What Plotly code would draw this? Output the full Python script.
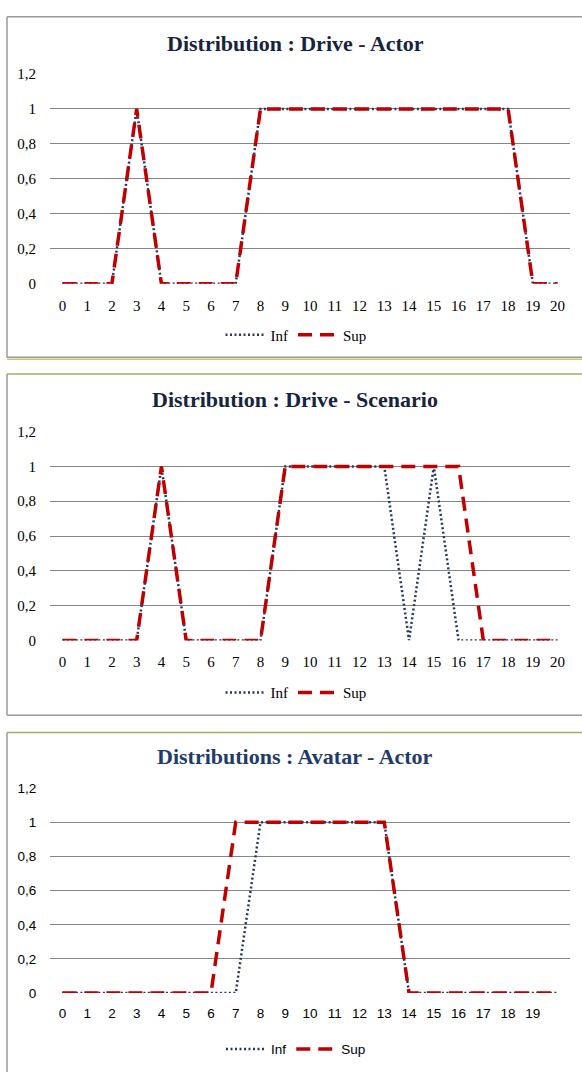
import plotly.graph_objects as go

W, H = 582, 1075

# ---------------- data ----------------
x_vals = list(range(21))
x_labels_21 = [str(i) for i in range(21)]
x_labels_20 = [str(i) for i in range(20)]
y_ticks = [0, 0.2, 0.4, 0.6, 0.8, 1, 1.2]
y_labels = ["0", "0,2", "0,4", "0,6", "0,8", "1", "1,2"]

titles = ["Distribution : Drive - Actor",
          "Distribution : Drive - Scenario",
          "Distributions : Avatar - Actor"]

inf_drive_actor = [0, 0, 0, 1, 0, 0, 0, 0, 1, 1, 1, 1, 1, 1, 1, 1, 1, 1, 1, 0, 0]
sup_drive_actor = [0, 0, 0, 1, 0, 0, 0, 0, 1, 1, 1, 1, 1, 1, 1, 1, 1, 1, 1, 0, 0]

inf_drive_scenario = [0, 0, 0, 0, 1, 0, 0, 0, 0, 1, 1, 1, 1, 1, 0, 1, 0, 0, 0, 0, 0]
sup_drive_scenario = [0, 0, 0, 0, 1, 0, 0, 0, 0, 1, 1, 1, 1, 1, 1, 1, 1, 0, 0, 0, 0]

inf_avatar_actor = [0, 0, 0, 0, 0, 0, 0, 0, 1, 1, 1, 1, 1, 1, 0, 0, 0, 0, 0, 0, 0]
sup_avatar_actor = [0, 0, 0, 0, 0, 0, 0, 1, 1, 1, 1, 1, 1, 1, 0, 0, 0, 0, 0, 0, 0]

# ---------------- styles ----------------
INF_COLOR = "#1F3864"
SUP_COLOR = "#C00000"
GRID = "#868686"
BORDER = "#9a9a9a"
OLIVE = "#a9a86c"

def px_x(v):
    return v / W

def px_y(v):
    return 1 - v / H

panels = [
    dict(top=67, bottom=280, title_y=36, legend_y=332, serif=True,
         inf=inf_drive_actor, sup=sup_drive_actor, labels=x_labels_21, title_color="#17243d"),
    dict(top=430, bottom=642, title_y=397, legend_y=695, serif=True,
         inf=inf_drive_scenario, sup=sup_drive_scenario, labels=x_labels_21, title_color="#17243d"),
    dict(top=792, bottom=1000, title_y=760, legend_y=1057, serif=False,
         inf=inf_avatar_actor, sup=sup_avatar_actor, labels=x_labels_20, title_color="#1F3B6B"),
]

fig = go.Figure()
layout = dict(
    width=W, height=H,
    margin=dict(l=0, r=0, t=0, b=0),
    paper_bgcolor="white", plot_bgcolor="white",
    showlegend=True,
    annotations=[], shapes=[],
)

for i, p in enumerate(panels):
    n = "" if i == 0 else str(i + 1)
    leg = "legend" + n
    font_family = "Liberation Serif" if p["serif"] else "Liberation Sans"
    tick_size = 15 if p["serif"] else 13.5
    fig.add_trace(go.Scatter(
        x=x_vals, y=p["inf"], mode="lines", name="Inf",
        line=dict(color=INF_COLOR, width=2.5, dash="2px,2.5px"),
        xaxis="x" + n, yaxis="y" + n, legend=leg, hoverinfo="skip"))
    fig.add_trace(go.Scatter(
        x=x_vals, y=p["sup"], mode="lines", name="Sup",
        line=dict(color=SUP_COLOR, width=3.5, dash="14px,8px"),
        xaxis="x" + n, yaxis="y" + n, legend=leg, hoverinfo="skip"))

    layout["xaxis" + n] = dict(
        domain=[px_x(50), px_x(570)], anchor="y" + n,
        range=[-0.5, 20.5], tickmode="array",
        tickvals=list(range(len(p["labels"]))), ticktext=p["labels"],
        showgrid=False, zeroline=False, showline=False,
        ticks="outside", ticklen=8, tickcolor="rgba(0,0,0,0)",
        tickfont=dict(family=font_family, size=tick_size, color="black"),
        fixedrange=True)
    layout["yaxis" + n] = dict(
        domain=[px_y(p["bottom"]), px_y(p["top"])], anchor="x" + n,
        range=[0, 1.2], tickmode="array",
        tickvals=y_ticks, ticktext=y_labels,
        showgrid=True, gridcolor=GRID, gridwidth=1,
        zeroline=False, showline=False,
        ticks="outside", ticklen=10, tickcolor="rgba(0,0,0,0)",
        tickfont=dict(family=font_family, size=tick_size, color="black"),
        fixedrange=True)
    layout[leg] = dict(
        orientation="h", x=px_x(296), xanchor="center",
        y=px_y(p["legend_y"]), yanchor="middle",
        font=dict(family=font_family, size=tick_size, color="black"),
        itemwidth=40, bgcolor="rgba(0,0,0,0)")
    layout["annotations"].append(dict(
        text="<b>%s</b>" % titles[i], xref="paper", yref="paper",
        x=px_x(295), y=px_y(p["title_y"]), xanchor="center", yanchor="middle",
        showarrow=False,
        font=dict(family="Liberation Serif", size=22, color=p["title_color"])))

def hline(y, x0, x1, color, width=1.5):
    return dict(type="line", xref="paper", yref="paper", x0=px_x(x0), x1=px_x(x1),
                y0=px_y(y), y1=px_y(y), line=dict(color=color, width=width))

def vline(x, y0, y1, color, width=1.5):
    return dict(type="line", xref="paper", yref="paper", x0=px_x(x), x1=px_x(x),
                y0=px_y(y0), y1=px_y(y1), line=dict(color=color, width=width))

layout["shapes"] += [
    hline(9, 7, 590, BORDER), vline(7, 9, 355, BORDER), hline(354.5, 7, 590, BORDER),
    hline(356.5, 7, 590, "#cfc95a", 1.5),
    hline(371.5, 7, 590, OLIVE), vline(7, 371.5, 718, BORDER), hline(718, 7, 590, BORDER),
    hline(735.5, 7, 590, OLIVE), vline(7, 735.5, 1080, BORDER),
]

fig.update_layout(**layout)
fig.write_html("out.html", config={"displayModeBar": False},
               post_script="document.documentElement.style.margin='0';"
                           "document.body.style.margin='0';"
                           "document.body.style.overflow='hidden';")
